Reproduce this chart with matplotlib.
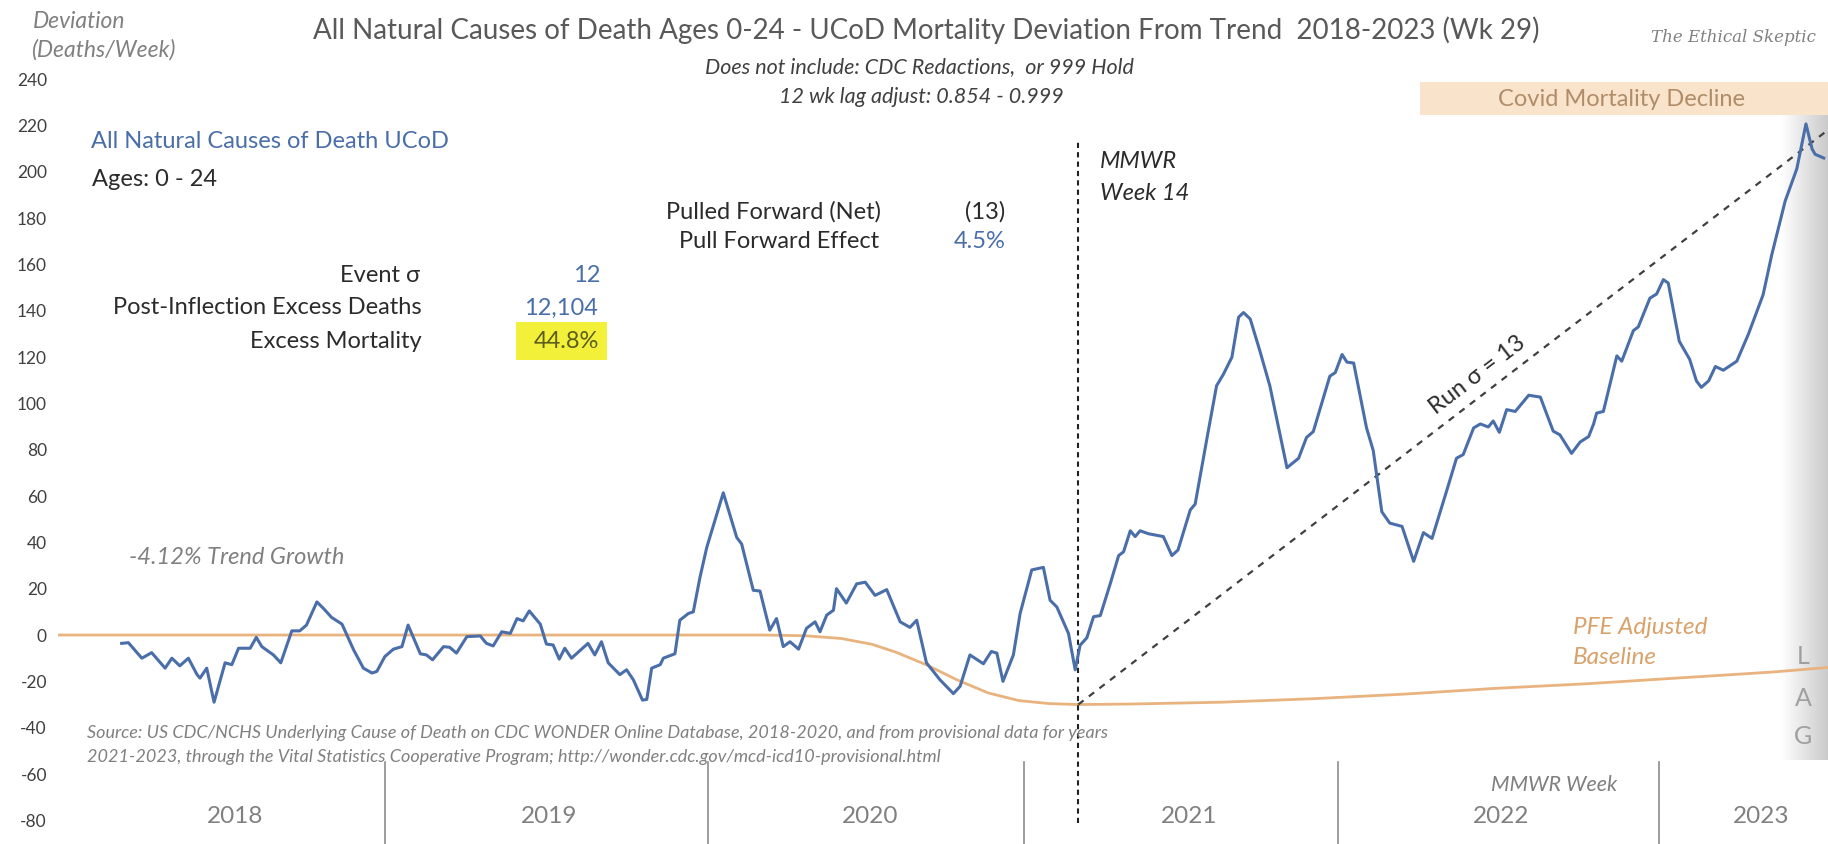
import numpy as np
import matplotlib
matplotlib.use("Agg")
import matplotlib.pyplot as plt
from matplotlib.colors import LinearSegmentedColormap
from matplotlib.patches import Rectangle

# weekly deviation (weeks counted from 2018 wk 1)
weeks = [10.4, 11.5, 13.7, 15.3, 17.5, 18.6, 19.9, 21.3, 22.7, 23.2, 24.3, 25.5, 27.3, 28.4, 29.5,
         31.4, 32.4, 33.3, 35.2, 36.4, 38.2, 39.5, 40.6, 42.3, 43.4, 44.7, 46.4, 48.3, 49.9, 51.3,
         52.1, 53.4, 54.8, 56.2, 57.2, 59.2, 60.2, 61.2, 63.0, 64.0, 65.1, 66.8, 69.0, 70.0, 71.1,
         72.5, 73.9, 75.0, 76.0, 77.0, 78.8, 79.8, 80.9, 81.9, 82.8, 83.9, 86.6, 87.7, 88.8, 89.9,
         91.8, 92.9, 94.0, 95.5, 96.2, 97.0, 98.4, 98.9, 100.8, 101.6, 103.0, 103.8, 104.9, 106.0,
         108.7, 110.9, 111.7, 113.6, 114.7, 116.3, 117.4, 118.5, 119.6, 121.0, 122.3, 123.7, 124.5,
         125.6, 126.7, 127.2, 128.8, 130.5, 131.9, 133.5, 135.4, 137.6, 139.2, 140.3, 141.9, 144.1,
         146.3, 147.4, 149.0, 151.2, 152.5, 153.4, 154.4, 156.1, 157.2, 159.1, 161.0, 162.1, 163.2,
         165.1, 166.2, 167.0, 168.1, 169.2, 170.3, 171.9, 173.3, 174.1, 175.2, 176.0, 176.8, 178.2,
         180.6, 182.0, 183.0, 185.0, 185.8, 187.7, 189.3, 190.4, 191.8, 192.9, 193.7, 194.8, 196.4,
         198.0, 200.8, 202.7, 204.0, 205.1, 207.8, 208.7, 209.8, 210.6, 211.7, 213.8, 214.9, 216.3,
         217.6, 219.6, 221.5, 223.1, 224.5, 226.9, 228.5, 229.6, 231.3, 232.4, 233.7, 234.5, 235.5,
         236.7, 238.1, 240.3, 242.2, 244.3, 245.4, 247.3, 248.7, 250.1, 250.9, 251.4, 252.5, 254.7,
         255.5, 257.4, 258.2, 260.1, 261.2, 262.3, 263.1, 264.9, 266.6, 267.7, 268.5, 269.7, 270.8,
         272.1, 274.3, 276.2, 278.6, 280.0, 282.2, 284.1, 285.6, 286.6, 287.1, 288.5]
deviation = [-3.6, -3.3, -10, -7.6, -14.3, -10, -13.3, -10, -17, -18.6, -14.3, -29, -12, -12.8, -5.7,
             -5.7, -1, -5, -8.6, -12, 1.8, 1.8, 4.3, 14.3, 11.4, 7.6, 4.7, -6.4, -14.3, -16.4,
             -15.7, -9.3, -6.1, -5, 4.3, -8.1, -8.6, -10.7, -5, -5.3, -7.8, -0.7, -0.4, -3.6, -4.7,
             1.4, 0.7, 7.1, 6.1, 10.4, 4.7, -3.9, -4.3, -10.4, -5.7, -10, -3.6, -8.6, -2.9, -12,
             -17.1, -15, -19.3, -28.1, -27.8, -14.3, -12.8, -10, -8.1, 6.4, 9.3, 10, 25, 37.8,
             61.4, 42.1, 39.3, 19.3, 19, 2.1, 7.1, -5, -2.9, -6.1, 2.9, 5.7, 1.4,
             8.6, 10.7, 20, 13.8, 22.1, 22.8, 17.1, 19.6, 5.7, 3.3, 6.4, -12, -19.3,
             -25.3, -22.1, -8.6, -12.4, -7.1, -7.8, -20, -8.6, 9.3, 28.1, 29.2, 15, 12.1,
             0.7, -15, -4.4, -1.2, 7.9, 8.4, 21.9, 34.3, 35.9, 45, 42.5, 45, 43.7,
             42.5, 34.3, 36.7, 54, 56.5, 84.5, 107.6, 112.5, 119.9, 137.2, 139.2, 136.4, 122.4,
             107.6, 72.2, 76.3, 85.3, 87.8, 111.7, 113.3, 121.1, 117.8, 117.4, 89.4, 79.6, 53.2,
             48.3, 46.9, 31.8, 44.2, 41.7, 62.3, 76.3, 77.9, 89.4, 91.1, 89.8, 92.4, 87.5,
             97.3, 96.5, 103.5, 102.7, 88, 86.4, 78.4, 83.3, 85.7, 91.1, 95.8, 96.5, 120.5,
             118.2, 131.4, 133, 145.4, 147.2, 153.4, 151.9, 126.8, 119, 109.7, 106.9, 109.7, 115.9,
             114.3, 118.2, 129.9, 146.9, 164, 187.3, 201.2, 220.6, 209.8, 207.5, 205.9]

# PFE adjusted baseline
baseline_weeks = [0, 20, 40, 60, 80, 100, 115, 122, 128, 133, 137, 142, 147, 152, 157, 162, 166.7,
                  175, 190, 205, 220, 235, 250, 265, 280, 289.2]
baseline_values = [0, 0, 0, 0, 0, 0, 0, -0.3, -1.5, -4, -7.5, -13, -19.5, -25, -28.3, -29.6, -30,
                   -29.8, -29, -27.5, -25.5, -23, -21, -18.5, -16, -14]

# run line from inflection to latest week
run_weeks = [166.7, 289.2]
run_values = [-30, 218]

inflection_week = 166.7
years = ["2018", "2019", "2020", "2021", "2022", "2023"]
year_centers = [28.9, 80.2, 132.7, 184.8, 235.8, 278.3]
year_dividers = [53.4, 106.2, 157.8, 209.2, 261.6]
yticks = list(range(-80, 241, 20))

W, H = 1828, 844
BLUE = "#4a6ea9"
ORANGE = "#e8b37f"
GREY = "#595959"
LIGHT = "#808080"
DARK = "#2b2b2b"
plt.rcParams["font.family"] = ["Lato", "DejaVu Sans"]


def fx(x):
    return x / W


def fy(y):
    return 1 - y / H


fig = plt.figure(figsize=(W / 100, H / 100), dpi=100)
fig.patch.set_facecolor("white")
ax = fig.add_axes([58 / W, 0, 1 - 58 / W, 1])
ax.set_facecolor("none")

# lag shade on the right
lag_cmap = LinearSegmentedColormap.from_list("lag", ["#ffffff", "#c4c4c4"])
ax.imshow(np.linspace(0, 1, 64)[None, :], extent=[281.5, 289.2, -54, 224], cmap=lag_cmap,
          aspect="auto", zorder=0, alpha=0.9)

ax.plot(baseline_weeks, baseline_values, color=ORANGE, lw=2.0, zorder=2)
ax.plot(weeks, deviation, color=BLUE, lw=2.2, zorder=3)
ax.plot(run_weeks, run_values, color="#404040", lw=1.6, ls=(0, (3, 3)), zorder=2)
ax.plot([inflection_week, inflection_week], [-81, 213], color="#202020", lw=1.5,
        ls=(0, (2.5, 2)), zorder=2)

for d in year_dividers:
    ax.plot([d, d], [-55, -92], color="#8c8c8c", lw=1.2, zorder=1)

ax.set_xlim(0, 289.2)
ax.set_ylim(-90.2, 274.1)
ax.set_yticks(yticks)
ax.set_yticklabels([str(t) for t in yticks], fontsize=12.5, color="#404040")
ax.tick_params(axis="y", length=0, pad=8)
ax.set_xticks([])
for s in ax.spines.values():
    s.set_visible(False)

for lab, c in zip(years, year_centers):
    ax.text(c, -78.5, lab, ha="center", va="center", fontsize=17.5, color=LIGHT)

# header texts
fig.text(fx(33), fy(22), "Deviation", fontsize=16.5, style="italic", color=LIGHT, va="center")
fig.text(fx(31), fy(50), "(Deaths/Week)", fontsize=16.5, style="italic", color=LIGHT, va="center")
fig.text(fx(926), fy(30), "All Natural Causes of Death Ages 0-24 - UCoD Mortality Deviation From Trend  2018-2023 (Wk 29)",
         fontsize=20, color=GREY, ha="center", va="center")
fig.text(fx(1733), fy(37), "The Ethical Skeptic", fontsize=12, style="italic", color=LIGHT,
         ha="center", va="center", family=["DejaVu Serif"])
fig.text(fx(919), fy(67), "Does not include: CDC Redactions,  or 999 Hold", fontsize=15.5,
         style="italic", color="#404040", ha="center", va="center")
fig.text(fx(921), fy(97), "12 wk lag adjust: 0.854 - 0.999", fontsize=15.5,
         style="italic", color="#404040", ha="center", va="center")

fig.text(fx(91), fy(142), "All Natural Causes of Death UCoD", fontsize=17, color=BLUE, va="center")
fig.text(fx(92), fy(180), "Ages: 0 - 24", fontsize=17, color=DARK, va="center")

# stats block
fig.text(fx(881), fy(212), "Pulled Forward (Net)", fontsize=17, color=DARK, ha="right", va="center")
fig.text(fx(985), fy(212), "(13)", fontsize=17, color=DARK, ha="center", va="center")
fig.text(fx(879), fy(242), "Pull Forward Effect", fontsize=17, color=DARK, ha="right", va="center")
fig.text(fx(980), fy(242), "4.5%", fontsize=17, color=BLUE, ha="center", va="center")

fig.patches.append(Rectangle((fx(516), fy(360)), fx(91), 38 / H, transform=fig.transFigure,
                             fc="#f3f03a", ec="none", zorder=0))
fig.text(fx(420), fy(275), "Event σ", fontsize=17, color=DARK, ha="right", va="center")
fig.text(fx(587), fy(275), "12", fontsize=17, color=BLUE, ha="center", va="center")
fig.text(fx(422), fy(308), "Post-Inflection Excess Deaths", fontsize=17, color=DARK, ha="right", va="center")
fig.text(fx(561), fy(308), "12,104", fontsize=17, color=BLUE, ha="center", va="center")
fig.text(fx(422), fy(342), "Excess Mortality", fontsize=17, color=DARK, ha="right", va="center")
fig.text(fx(566), fy(342), "44.8%", fontsize=17, color="#5c5c1e", ha="center", va="center")

fig.text(fx(129), fy(557), "-4.12% Trend Growth", fontsize=17, style="italic", color=LIGHT, va="center")
fig.text(fx(87), fy(733), "Source: US CDC/NCHS Underlying Cause of Death on CDC WONDER Online Database, 2018-2020, and from provisional data for years",
         fontsize=13, style="italic", color=LIGHT, va="center")
fig.text(fx(87), fy(757), "2021-2023, through the Vital Statistics Cooperative Program; http://wonder.cdc.gov/mcd-icd10-provisional.html",
         fontsize=13, style="italic", color=LIGHT, va="center")

fig.text(fx(1100), fy(162), "MMWR", fontsize=17, style="italic", color=DARK, va="center")
fig.text(fx(1100), fy(193), "Week 14", fontsize=17, style="italic", color=DARK, va="center")

# run label rotated along the dashed line
p0 = ax.transData.transform((run_weeks[0], run_values[0]))
p1 = ax.transData.transform((run_weeks[1], run_values[1]))
ang = np.degrees(np.arctan2(p1[1] - p0[1], p1[0] - p0[0]))
fig.text(fx(1477), fy(375), "Run σ = 13", fontsize=17, color=DARK, ha="center", va="center",
         rotation=ang, rotation_mode="anchor")

# covid decline band
fig.patches.append(Rectangle((fx(1420), fy(115)), fx(408), 33 / H, transform=fig.transFigure,
                             fc="#f9e3cb", ec="none", zorder=0))
fig.text(fx(1622), fy(99), "Covid Mortality Decline", fontsize=17, color="#b08d68",
         ha="center", va="center")

fig.text(fx(1573), fy(628), "PFE Adjusted", fontsize=17.5, style="italic", color="#d9a26a", va="center")
fig.text(fx(1573), fy(658), "Baseline", fontsize=17.5, style="italic", color="#d9a26a", va="center")

for lab, yy in zip(["L", "A", "G"], [657, 698, 737]):
    fig.text(fx(1803), fy(yy), lab, fontsize=18, color="#a0a0a0", ha="center", va="center")

fig.text(fx(1554), fy(785), "MMWR Week", fontsize=15.5, style="italic", color=LIGHT, ha="center", va="center")

fig.savefig("out.png", dpi=100)
